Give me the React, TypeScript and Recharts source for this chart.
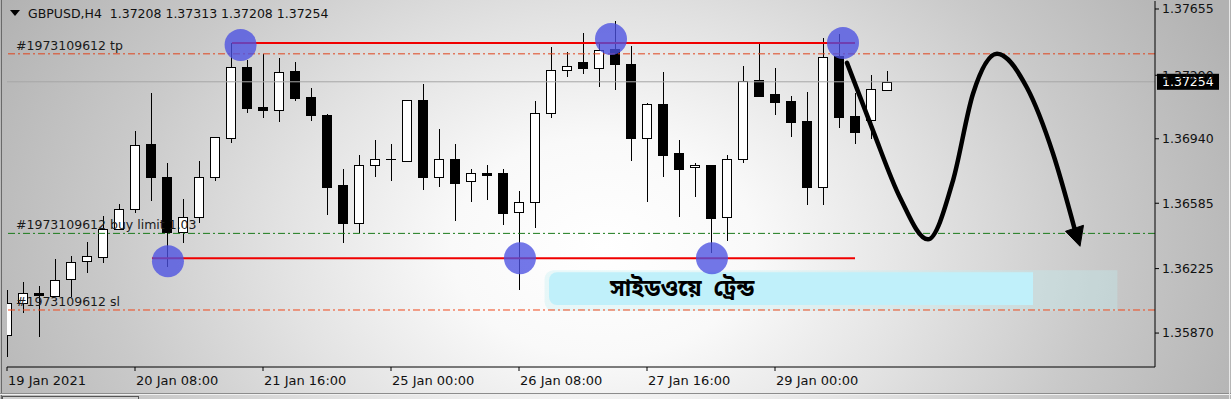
import React from 'react';
import { ComposedChart, Bar, Line, XAxis, YAxis, ReferenceLine, ReferenceDot, ReferenceArea } from 'recharts';

const symbolTitle = 'GBPUSD,H4';
const headerOHLC = ['1.37208', '1.37313', '1.37208', '1.37254'];

const openP = [1.35859,1.36035,1.36090,1.36073,1.36167,1.36266,1.36288,1.36441,1.36551,1.36914,
1.36732,1.36425,1.36507,1.36727,1.36947,1.37336,1.37117,1.37100,1.37314,1.37172,
1.37073,1.36683,1.36474,1.36793,1.36826,1.36815,1.37155,1.36732,1.36831,1.36705,
1.36754,1.36754,1.36535,1.36590,1.37084,1.37320,1.37364,1.37331,1.37435,1.37353,
1.36947,1.37133,1.36859,1.36782,1.36798,1.36507,1.36826,1.37265,1.37188,1.37150,
1.37040,1.36672,1.37397,1.37067,1.37045,1.37208];
const highP = [1.36106,1.36150,1.36128,1.36277,1.36293,1.36370,1.36513,1.36579,1.36985,1.37194,
1.36809,1.36606,1.36820,1.36952,1.37468,1.37375,1.37408,1.37386,1.37364,1.37221,
1.37078,1.36776,1.36853,1.36936,1.36914,1.37155,1.37243,1.36996,1.36914,1.36776,
1.36798,1.36776,1.36650,1.37150,1.37446,1.37419,1.37523,1.37463,1.37589,1.37452,
1.37139,1.37309,1.36936,1.36809,1.36798,1.36848,1.37342,1.37468,1.37331,1.37177,
1.37199,1.37496,1.37518,1.37194,1.37293,1.37313];
const lowP = [1.35738,1.35980,1.35848,1.36068,1.36068,1.36200,1.36255,1.36441,1.36529,1.36595,
1.36233,1.36364,1.36474,1.36705,1.36919,1.37084,1.37056,1.37034,1.37150,1.37040,
1.36518,1.36364,1.36419,1.36732,1.36710,1.36815,1.36656,1.36677,1.36485,1.36590,
1.36601,1.36463,1.36106,1.36447,1.37056,1.37282,1.37298,1.37227,1.37210,1.36815,
1.36590,1.36732,1.36507,1.36617,1.36309,1.36375,1.36809,1.37177,1.37073,1.36952,
1.36573,1.36573,1.37001,1.36914,1.36941,1.37208];
const closeP = [1.36035,1.36090,1.36079,1.36161,1.36260,1.36293,1.36441,1.36551,1.36908,1.36727,
1.36425,1.36507,1.36732,1.36952,1.37336,1.37111,1.37100,1.37309,1.37166,1.37073,
1.36677,1.36474,1.36793,1.36826,1.36826,1.37155,1.36732,1.36831,1.36699,1.36749,
1.36743,1.36529,1.36590,1.37084,1.37320,1.37342,1.37331,1.37430,1.37353,1.36947,
1.37133,1.36848,1.36776,1.36798,1.36502,1.36826,1.37260,1.37177,1.37144,1.37034,
1.36672,1.37391,1.37062,1.36980,1.37216,1.37254];

const xTickIdx = [0, 8, 16, 24, 32, 40, 48];
const xTickLabels = ['19 Jan 2021', '20 Jan 08:00', '21 Jan 16:00', '25 Jan 00:00', '26 Jan 08:00', '27 Jan 16:00', '29 Jan 00:00'];
const yTicks = [1.37655, 1.3729, 1.3694, 1.36585, 1.36225, 1.3587];
const yDomain = [1.35683, 1.37699];
const xDomain = [0, 71.75];

const tpLevel = 1.37408;
const buyLimitLevel = 1.36419;
const slLevel = 1.35997;
const currentPrice = 1.37254;
const orderId = '#1973109612';

const resistance = 1.37468;
const resistanceSpan = [14.06, 53];
const support = 1.36282;
const supportSpan = [9.06, 53];

const touchX = [14.6, 10.06, 32.06, 37.75, 44.06, 52.25];
const touchY = [1.37457, 1.36266, 1.36282, 1.3749, 1.36282, 1.37468];

const pathX = [52.5, 54.125, 55.81, 57.56, 59.125, 60.375, 61.875, 63.75, 65.375, 66.75];
const pathY = [1.37358, 1.36985, 1.36617, 1.36386, 1.3671, 1.37188, 1.37408, 1.37221, 1.36859, 1.36436];

const trendLabel = 'সাইডওয়ে  ট্রেন্ড';
const trendBoxX = [33.875, 64.125];
const trendBoxY = [1.36024, 1.36205];
const trendFadeX = [33.6, 69.4];
const trendFadeY = [1.35991, 1.36216];

const candles = openP.map((o, i) => ({ i, open: o, high: highP[i], low: lowP[i], close: closeP[i] }));
const pathData = pathX.map((x, k) => ({ i: x, p: pathY[k] }));

const FONT = "'DejaVu Sans', Tahoma, sans-serif";

const Candle = (props: any) => {
  const { x, y, width, height, payload } = props;
  if (!payload || height == null) return <g />;
  const { open, close, high, low } = payload;
  const cx = Math.round(x + width / 2);
  const ratio = height / (high - low);
  const yOf = (v: number) => Math.round(y + (high - v) * ratio);
  const yH = yOf(high);
  const yL = yOf(low);
  const top = yOf(Math.max(open, close));
  const bot = yOf(Math.min(open, close));
  const bull = close > open;
  return (
    <g shapeRendering="crispEdges">
      <rect x={cx} y={yH} width={1} height={Math.max(1, yL - yH)} fill="#000" />
      {open === close ? (
        <rect x={cx - 5} y={top} width={10} height={1} fill="#000" />
      ) : bull ? (
        <rect x={cx - 4.5} y={top + 0.5} width={9} height={Math.max(1, bot - top)} fill="#fff" stroke="#000" strokeWidth={1} />
      ) : (
        <rect x={cx - 5} y={top} width={10} height={Math.max(1, bot - top + 1)} fill="#000" />
      )}
    </g>
  );
};

const XTick = (props: any) => {
  const { x, y, payload } = props;
  const k = xTickIdx.indexOf(payload.value);
  return (
    <text x={x + 1} y={y + 12} textAnchor="start" fontSize={13} fontFamily={FONT} fill="#111">
      {k >= 0 ? xTickLabels[k] : ''}
    </text>
  );
};

const levelLabel = (text: string) => (props: any) => {
  const vb = props.viewBox || {};
  return (
    <text x={(vb.x || 0) + 9} y={(vb.y || 0) - 4} fontSize={12.5} fontFamily={FONT} fill="#1a1a1a">
      {text}
    </text>
  );
};

const PriceBox = (props: any) => {
  const vb = props.viewBox || {};
  const right = (vb.x || 0) + (vb.width || 0);
  const yy = vb.y || 0;
  return (
    <g>
      <rect x={right + 2} y={yy - 8} width={62} height={16} fill="#000" />
      <text x={right + 7} y={yy} dominantBaseline="central" fontSize={12.5} fontFamily={FONT} fill="#fff">
        {currentPrice.toFixed(5)}
      </text>
    </g>
  );
};

const TrendText = (props: any) => {
  const vb = props.viewBox || {};
  return (
    <text
      x={(vb.x || 0) + 61}
      y={(vb.y || 0) + (vb.height || 0) / 2 + 1}
      dominantBaseline="central"
      fontSize={23}
      fontWeight="bold"
      fontFamily="'Noto Sans Bengali', 'Lohit Bengali', 'Noto Sans', sans-serif"
      fill="#000"
      style={{ whiteSpace: 'pre' }}
    >
      {trendLabel}
    </text>
  );
};

const ArrowHead = (props: any) => {
  const { cx, cy, index } = props;
  if (index !== pathX.length - 1 || cx == null) return <g key={`ad${index}`} />;
  const pts = `${cx + 5},${cy + 16} ${cx - 9.5},${cy + 1} ${cx + 8.5},${cy - 5}`;
  return <polygon key="arrowhead" points={pts} fill="#000" stroke="#000" strokeWidth={1} strokeLinejoin="round" />;
};

const dashDot = '7 3 2 3';

export default function App() {
  return (
    <div
      style={{
        position: 'absolute',
        left: 0,
        top: 0,
        width: 1231,
        height: 399,
        overflow: 'hidden',
        background:
          'radial-gradient(ellipse 56% 125% at 49% 62%, #ffffff 0%, #f9f9f9 22%, #e3e3e3 46%, #c9c9c9 72%, #b2b2b2 100%)',
      }}
    >
      <div style={{ position: 'absolute', left: 1, top: 0, width: 1, height: 399, background: '#6a6a6a' }} />
      <div style={{ position: 'absolute', left: 0, top: 393, width: 1231, height: 1, background: '#8c8c8c' }} />
      <div style={{ position: 'absolute', left: 0, top: 394, width: 1231, height: 1, background: '#f0f0f0' }} />
      <div style={{ position: 'absolute', left: 2, top: 396, width: 135, height: 5, border: '1px solid #555', background: '#cfcfcf' }} />
      <div style={{ position: 'absolute', right: 1, top: 0, width: 1, height: 399, background: '#e8e8e8' }} />
      <ComposedChart
        width={1231}
        height={399}
        data={candles}
        margin={{ top: 1, right: 0, bottom: 0, left: 7 }}
        style={{ position: 'absolute', left: 0, top: 0 }}
      >
        <XAxis
          type="number"
          dataKey="i"
          domain={xDomain}
          ticks={xTickIdx}
          allowDataOverflow
          interval={0}
          height={32}
          tickSize={4}
          tickLine={{ stroke: '#000' }}
          axisLine={{ stroke: '#000' }}
          tick={<XTick />}
        />
        <YAxis
          orientation="right"
          type="number"
          domain={yDomain}
          ticks={yTicks}
          allowDataOverflow
          interval={0}
          width={76}
          tickSize={4}
          tickMargin={3}
          tickFormatter={(v: number) => v.toFixed(5)}
          tick={{ fill: '#111', fontSize: 12.5, fontFamily: FONT }}
          tickLine={{ stroke: '#000' }}
          axisLine={{ stroke: '#000' }}
        />
        <ReferenceArea fill="none" stroke="#000" strokeWidth={1} />
        <ReferenceArea
          x1={trendFadeX[0]}
          x2={trendFadeX[1]}
          y1={trendFadeY[0]}
          y2={trendFadeY[1]}
          fill="#bfeef2"
          fillOpacity={0.35}
          stroke="none"
          radius={[9, 0, 0, 9] as any}
        />
        <ReferenceArea
          x1={trendBoxX[0]}
          x2={trendBoxX[1]}
          y1={trendBoxY[0]}
          y2={trendBoxY[1]}
          fill="#c0f0fa"
          fillOpacity={1}
          stroke="none"
          radius={[8, 0, 0, 8] as any}
          label={<TrendText />}
        />
        <ReferenceLine y={tpLevel} stroke="#e0441c" strokeDasharray={dashDot} label={levelLabel(`${orderId} tp`)} />
        <ReferenceLine y={buyLimitLevel} stroke="#1a7a1a" strokeDasharray={dashDot} label={levelLabel(`${orderId} buy limit 1.03`)} />
        <ReferenceLine y={slLevel} stroke="#f0461a" strokeDasharray={dashDot} label={levelLabel(`${orderId} sl`)} />
        <ReferenceLine y={currentPrice} stroke="#a6a6a6" strokeWidth={1} label={<PriceBox />} />
        <ReferenceLine
          segment={[{ x: resistanceSpan[0], y: resistance }, { x: resistanceSpan[1], y: resistance }]}
          stroke="#f00000"
          strokeWidth={2}
        />
        <ReferenceLine
          segment={[{ x: supportSpan[0], y: support }, { x: supportSpan[1], y: support }]}
          stroke="#f00000"
          strokeWidth={2}
        />
        <Bar
          dataKey={(d: any) => [d.low, d.high]}
          barSize={10}
          shape={(p: any) => <Candle {...p} />}
          isAnimationActive={false}
        />
        {touchX.map((x, k) => (
          <ReferenceDot key={k} x={x} y={touchY[k]} r={16} fill="#4c51e2" fillOpacity={0.78} stroke="none" />
        ))}
        <Line
          data={pathData}
          dataKey="p"
          type="monotone"
          stroke="#000"
          strokeWidth={4.5}
          strokeLinecap="round"
          dot={ArrowHead}
          activeDot={false}
          isAnimationActive={false}
        />
      </ComposedChart>
      <div
        style={{
          position: 'absolute',
          left: 10,
          top: 4,
          height: 18,
          display: 'flex',
          alignItems: 'center',
          fontFamily: FONT,
          fontSize: 12.5,
          color: '#111',
          whiteSpace: 'pre',
        }}
      >
        <svg width={11} height={7} style={{ marginRight: 7 }}>
          <polygon points="0,0 10,0 5,6" fill="#000" />
        </svg>
        <span>{`${symbolTitle}  ${headerOHLC.join(' ')}`}</span>
      </div>
    </div>
  );
}
